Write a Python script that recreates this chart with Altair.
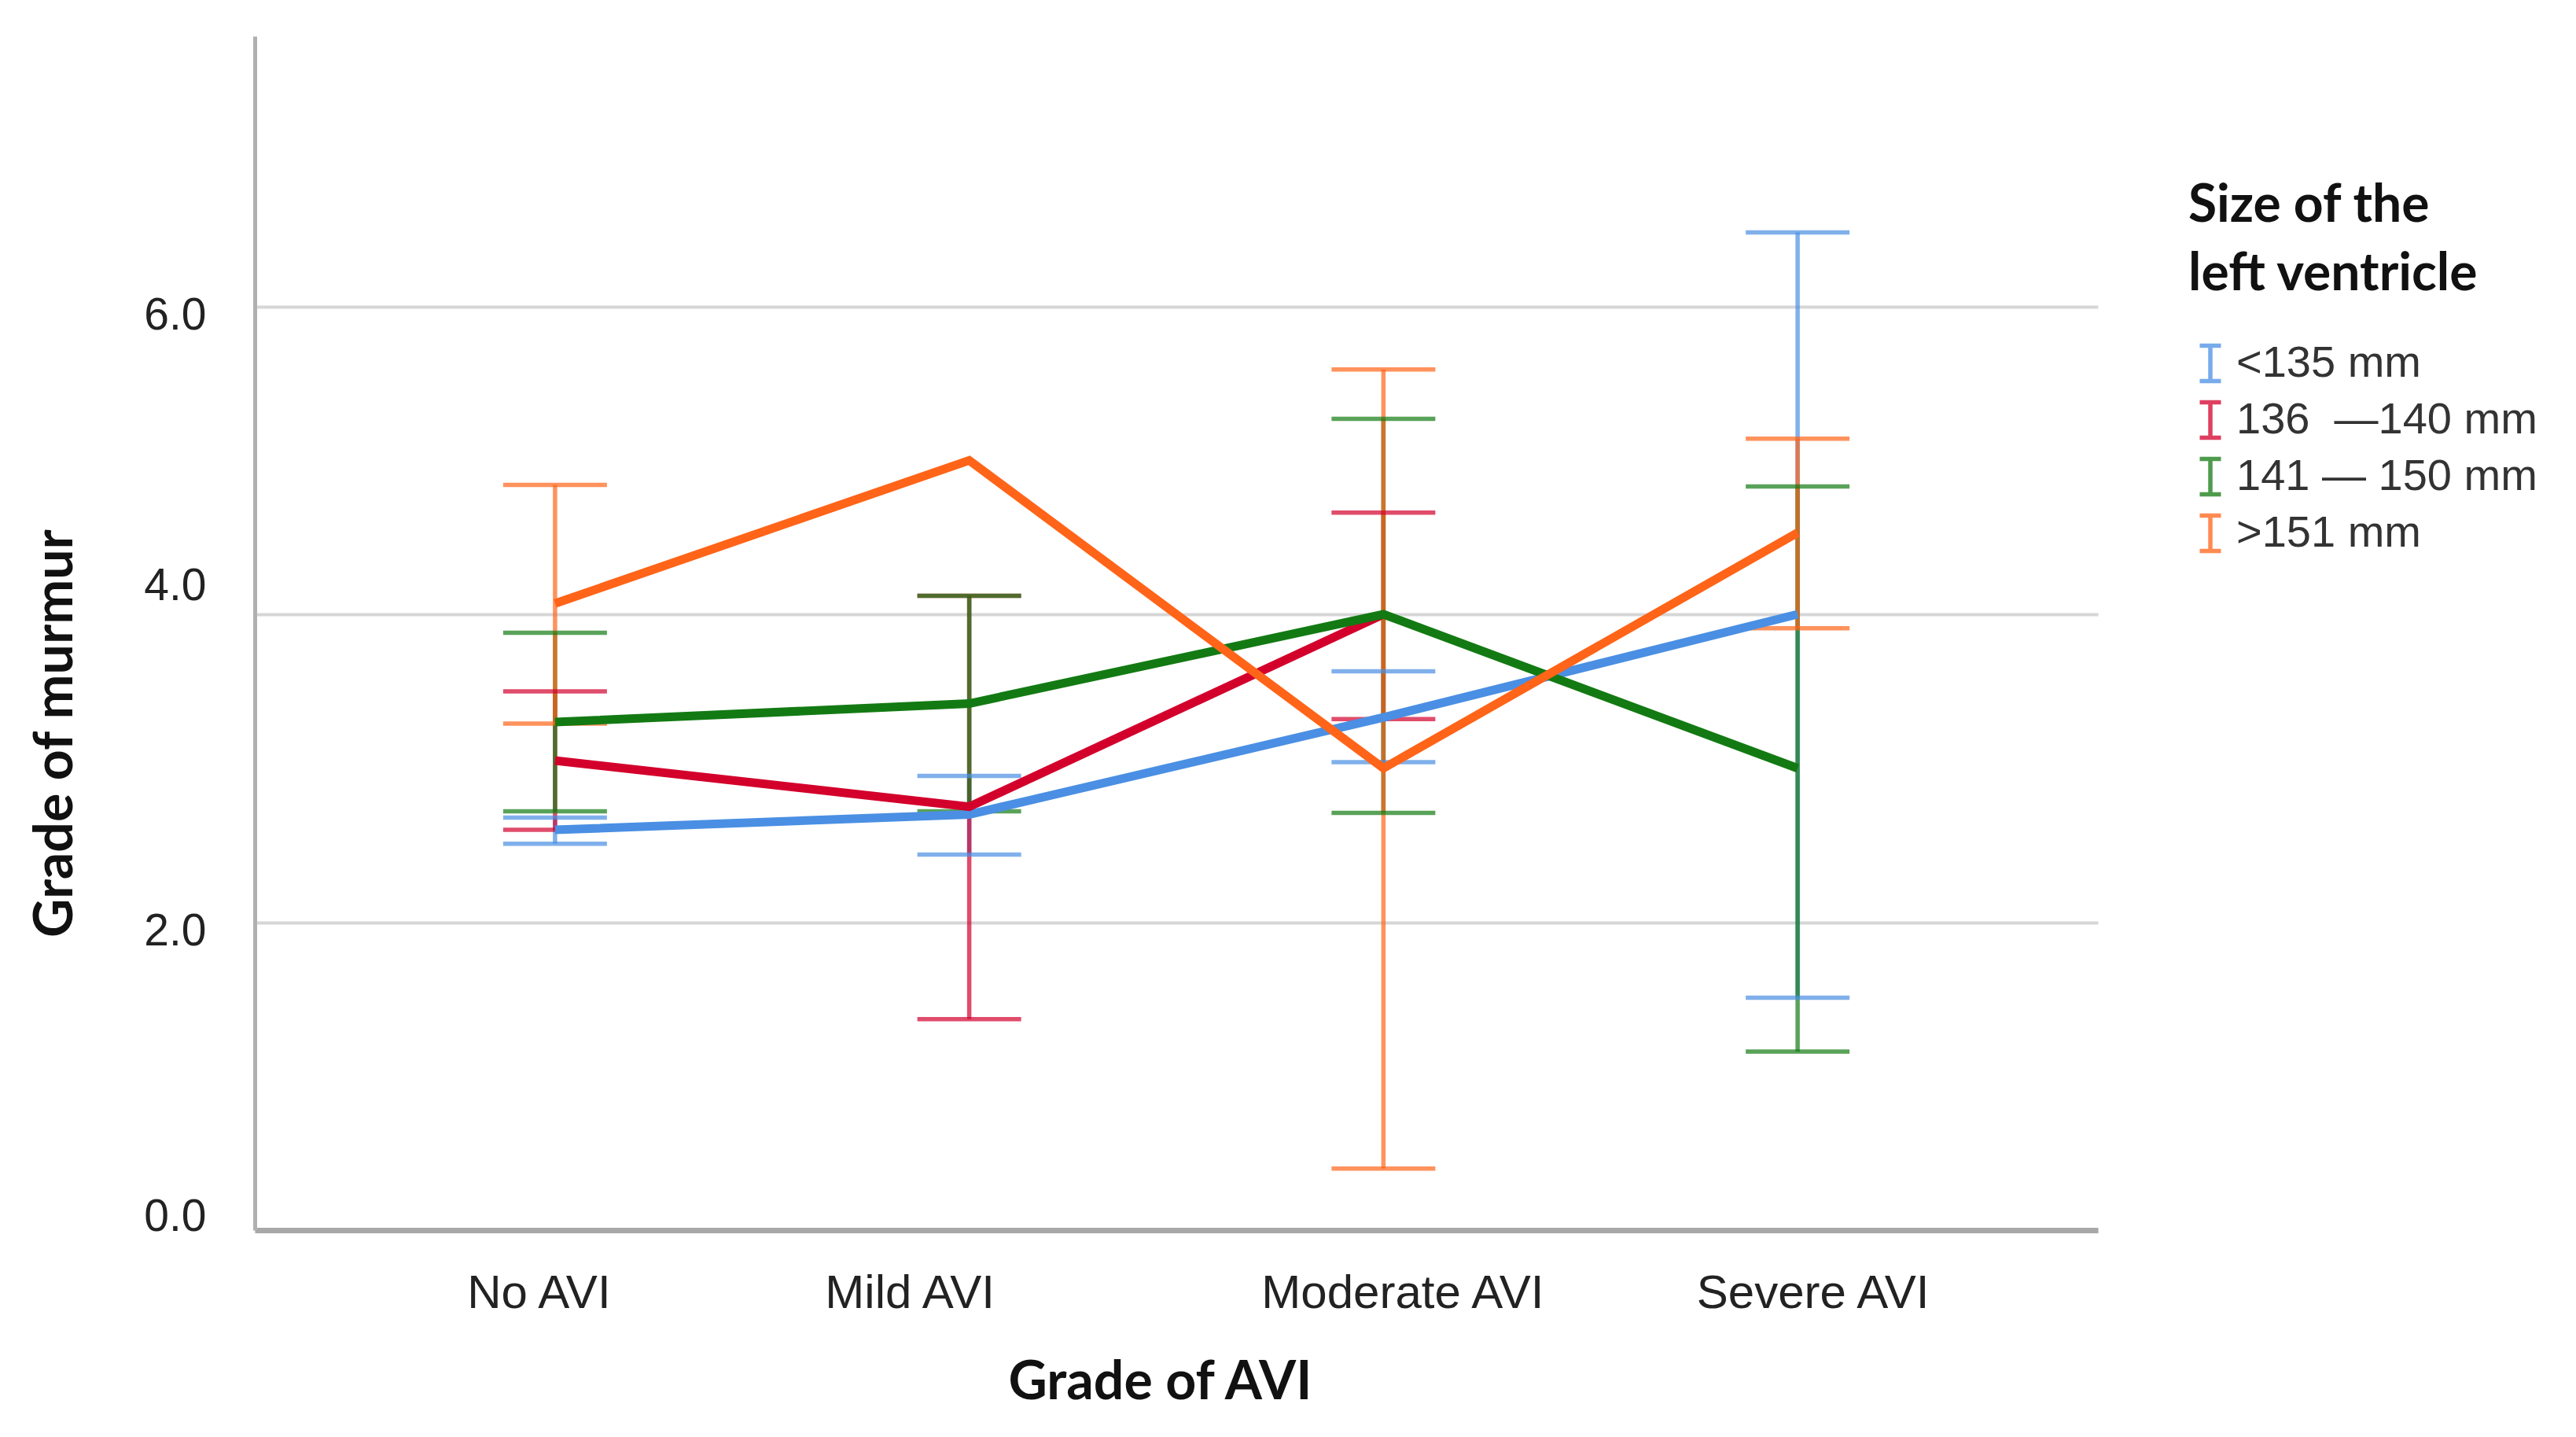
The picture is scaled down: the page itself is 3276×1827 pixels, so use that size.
import altair as alt
import pandas as pd

categories = ["No AVI", "Mild AVI", "Moderate AVI", "Severe AVI"]
series = ["<135 mm", "136\u00a0\u00a0\u2014140 mm", "141 \u2014 150 mm", ">151 mm"]
colors = ["#4a8fe3", "#d3002c", "#137a13", "#ff6418"]

# means and error bar ends, per series, in category order (None = not shown)
mean_s1 = [2.60, 2.70, 3.33, 4.00]
lo_s1 = [2.51, 2.44, 3.04, 1.51]
hi_s1 = [2.68, 2.95, 3.63, 6.48]

mean_s2 = [3.05, 2.75, 4.00, None]
lo_s2 = [2.60, 1.37, 3.32, None]
hi_s2 = [3.50, 4.12, 4.66, None]

mean_s3 = [3.30, 3.42, 4.00, 3.00]
lo_s3 = [2.72, 2.72, 2.71, 1.16]
hi_s3 = [3.88, 4.12, 5.27, 4.83]

mean_s4 = [4.07, 5.00, 3.00, 4.53]
lo_s4 = [3.29, None, 0.40, 3.91]
hi_s4 = [4.84, None, 5.59, 5.14]

means = [mean_s1, mean_s2, mean_s3, mean_s4]
los = [lo_s1, lo_s2, lo_s3, lo_s4]
his = [hi_s1, hi_s2, hi_s3, hi_s4]

rows = []
for si, s in enumerate(series):
    for ci, c in enumerate(categories):
        rows.append({"size": s, "grade": c, "order": si,
                     "mean": means[si][ci], "lo": los[si][ci], "hi": his[si][ci]})
df = pd.DataFrame(rows)

TITLE_FONT = "Lato"
LABEL_FONT = "Liberation Sans"

x_scale = alt.Scale(type="point", domain=categories, padding=0.725)
y_scale = alt.Scale(domain=[0, 7.755], nice=False, zero=False)

x_axis = alt.Axis(
    title="Grade of AVI", titleFont=TITLE_FONT, titleFontWeight="bold", titleFontSize=68,
    titleColor="#111111", titleX=1151, titleY=214, titleBaseline="alphabetic", titleAlign="center",
    titleLimit=3000,
    labelFont=LABEL_FONT, labelFontSize=60, labelColor="#222222", labelPadding=51, labelAngle=0,
    labelLimit=3000, labelOverlap=False,
    ticks=False, grid=False, domainColor="#a8a8a8", domainWidth=7,
    labelOffset={"condition": [
        {"test": "datum.value == 'No AVI'", "value": -21},
        {"test": "datum.value == 'Mild AVI'", "value": -76},
        {"test": "datum.value == 'Moderate AVI'", "value": 24}], "value": 19},
)
y_axis = alt.Axis(
    title="Grade of murmur", titleFont=TITLE_FONT, titleFontWeight="bold", titleFontSize=68,
    titleColor="#111111", titleX=-233, titleY=886, titleBaseline="alphabetic", titleAlign="center",
    titleLimit=3000,
    values=[0, 2, 4, 6], format=".1f",
    labelFont=LABEL_FONT, labelFontSize=57, labelColor="#222222", labelPadding=62,
    ticks=False, grid=True, gridColor="#d6d6d6", gridWidth=4,
    domainColor="#b0b0b0", domainWidth=5,
    labelOffset={"condition": [
        {"test": "datum.value == 4", "value": -36},
        {"test": "datum.value == 0", "value": -17}], "value": 12},
)

legend = alt.Legend(
    title=["Size of the", "left ventricle"], orient="none", legendX=2459, legendY=184,
    titleFont=TITLE_FONT, titleFontWeight="bold", titleFontSize=66, titleLineHeight=87,
    titleColor="#111111", titlePadding=51, titleLimit=3000,
    labelFont=LABEL_FONT, labelFontSize=56, labelColor="#333333", labelLimit=3000,
    symbolType="M-0.6,-1H0.6M0,-1V1M-0.6,1H0.6", symbolSize=2025, symbolStrokeWidth=5.5,
    symbolOpacity=0.75, rowPadding=4, labelOffset=5, padding=0, offset=0,
)

color = alt.Color("size:N", scale=alt.Scale(domain=series, range=colors), legend=legend)

base = alt.Chart(df)

bars = base.transform_filter("isValid(datum.lo)").mark_rule(strokeWidth=5.5, opacity=0.7).encode(
    x=alt.X("grade:N", scale=x_scale, axis=x_axis),
    y=alt.Y("lo:Q", scale=y_scale, axis=y_axis),
    y2="hi:Q",
    color=color,
    order="order:Q",
)

caps_hi = base.transform_filter("isValid(datum.hi)").mark_rule(
    strokeWidth=5.5, opacity=0.7, xOffset=-66, x2Offset=66).encode(
    x=alt.X("grade:N", scale=x_scale, axis=x_axis),
    x2="grade:N",
    y=alt.Y("hi:Q", scale=y_scale, axis=y_axis),
    color=color,
)
caps_lo = base.transform_filter("isValid(datum.lo)").mark_rule(
    strokeWidth=5.5, opacity=0.7, xOffset=-66, x2Offset=66).encode(
    x=alt.X("grade:N", scale=x_scale, axis=x_axis),
    x2="grade:N",
    y=alt.Y("lo:Q", scale=y_scale, axis=y_axis),
    color=color,
)

lines = base.transform_filter("isValid(datum.mean)").mark_line(strokeWidth=11).encode(
    x=alt.X("grade:N", scale=x_scale, axis=x_axis, sort=categories),
    y=alt.Y("mean:Q", scale=y_scale, axis=y_axis),
    color=color,
    detail="size:N",
)

chart = alt.layer(bars, caps_hi, caps_lo, lines).properties(
    width=2344, height=1518,
    padding={"left": 316, "top": 38, "right": 600, "bottom": 250},
    autosize=alt.AutoSizeParams(type="none"),
).configure(background="white", view=alt.ViewConfig(stroke=None))

chart.save("out.html", embed_options={"renderer": "svg", "actions": False})
